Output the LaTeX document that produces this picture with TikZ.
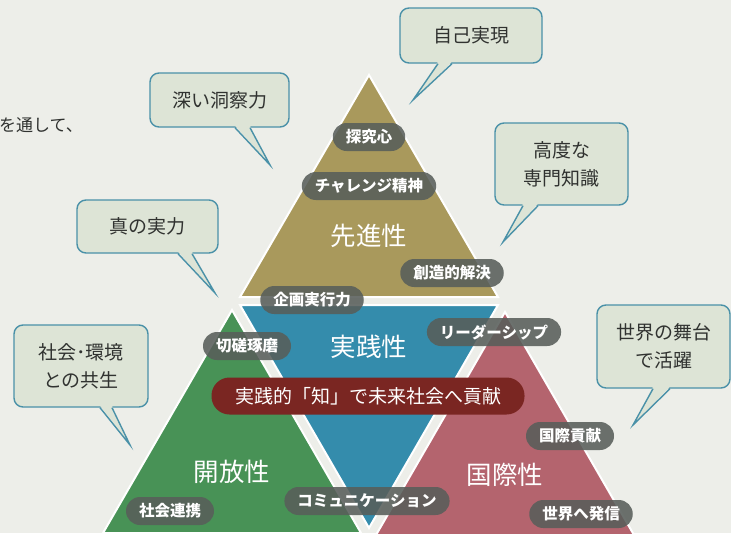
\documentclass[tikz,border=0pt]{standalone}
\usepackage{fontspec}
\setmainfont{Noto Sans CJK JP}
\usetikzlibrary{calc}
\definecolor{bg}{RGB}{237,238,233}
\definecolor{goldc}{RGB}{169,153,92}
\definecolor{bluec}{RGB}{52,140,172}
\definecolor{greenc}{RGB}{72,146,86}
\definecolor{redc}{RGB}{180,100,110}
\definecolor{pillc}{RGB}{88,94,90}
\definecolor{redpillc}{RGB}{122,38,34}
\definecolor{bubfill}{RGB}{221,228,214}
\definecolor{bubline}{RGB}{74,145,168}
\definecolor{txtdark}{RGB}{48,50,48}
\tikzset{
  tri/.style={draw=white, line width=2pt},
  bigtxt/.style={text=white, font=\fontsize{25.5}{28}\selectfont, inner sep=0pt},
  pill/.style={fill=pillc, fill opacity=0.88, text opacity=1, text=white, rounded corners=14pt,
    minimum height=28pt, inner xsep=13pt, inner ysep=0pt, font=\fontsize{15.5}{18}\selectfont\bfseries},
  redpill/.style={fill=redpillc, text=white, rounded corners=18pt, minimum height=37pt,
    minimum width=313pt, inner sep=0pt, font=\fontsize{19}{22}\selectfont},
  bubble/.style={draw=bubline, line width=1.4pt, fill=bubfill, rounded corners=9pt,
    text=txtdark, align=center, inner sep=0pt, font=\fontsize{19}{28}\selectfont},
  tail/.style={draw=bubline, line width=1.4pt, line join=miter},
  sidetxt/.style={text=txtdark, font=\fontsize{17}{18}\selectfont, inner sep=0pt, anchor=west}
}
\begin{document}
\begin{tikzpicture}[x=1pt,y=-1pt]
\useasboundingbox (0,0) rectangle (731,533);
\clip (0,0) rectangle (731,533);
\fill[bg] (0,0) rectangle (731,533);

% triangles
\coordinate (gA) at (369,75);  \coordinate (gL) at (240,297); \coordinate (gR) at (498,297);
\coordinate (bL) at (240,305); \coordinate (bR) at (498,305); \coordinate (bB) at (369,528);
\coordinate (nA) at (232,310); \coordinate (nL) at (103,533); \coordinate (nR) at (361,533);
\coordinate (rA) at (505,312); \coordinate (rL) at (376,535); \coordinate (rR) at (634,535);
\filldraw[tri, fill=goldc] (gA) -- (gL) -- (gR) -- cycle;
\filldraw[tri, fill=bluec] (bL) -- (bR) -- (bB) -- cycle;
\filldraw[tri, fill=greenc] (nA) -- (nL) -- (nR) -- cycle;
\filldraw[tri, fill=redc] (rA) -- (rL) -- (rR) -- cycle;

% big labels
\node[bigtxt] (sen) at (369,236) {先進性};
\node[bigtxt] (jis) at (369,347) {実践性};
\node[bigtxt] (kai) at (232,472) {開放性};
\node[bigtxt] (kok) at (505,475) {国際性};

% pills
\node[pill] (p1) at (369,137) {探究心};
\node[pill] (p2) at (369,186) {チャレンジ精神};
\node[pill] (p3) at (452,273) {創造的解決};
\node[pill] (p4) at (312,300) {企画実行力};
\node[pill] (p5) at (247,346) {切磋琢磨};
\node[pill] (p6) at (494,332) {リーダーシップ};
\node[pill] (p7) at (170,511) {社会連携};
\node[pill] (p8) at (367,501) {コミュニケーション};
\node[pill] (p9) at (570,436) {国際貢献};
\node[pill] (p10) at (581,514) {世界へ発信};
\node[redpill] (rp) at (368,396) {実践的「知」で未来社会へ貢献};

% side text
\node[sidetxt] (side) at (-1,125) {を通して、};

% bubbles
\node[bubble, minimum width=139pt, minimum height=54pt] (b1) at (219.5,100) {深い洞察力};
\node[bubble, minimum width=141pt, minimum height=53pt] (b2) at (147.5,226.5) {真の実力};
\node[bubble, minimum width=142pt, minimum height=55pt] (b3) at (471,35.5) {自己実現};
\node[bubble, minimum width=133pt, minimum height=82pt] (b4) at (561.5,164) {高度な\\専門知識};
\node[bubble, minimum width=134pt, minimum height=82pt] (b5) at (81,366) {社会･環境\\との共生};
\node[bubble, minimum width=133pt, minimum height=83pt] (b6) at (663.5,346.5) {世界の舞台\\で活躍};

\coordinate (t1) at (270,165);
\coordinate (t2) at (215,293);
\coordinate (t3) at (413,100);
\coordinate (t4) at (503,242);
\coordinate (t5) at (130,445);
\coordinate (t6) at (633,425);

\foreach \b/\t/\da/\db in {b1/t1/15.5/30.5, b2/t2/30.5/44.5, b3/t3/-33/-19, b4/t4/-38.5/-23.5, b5/t5/19/31, b6/t6/-10.5/6.5}{
  \fill[bubfill] ($(\b.south)+(\da,-2)$) -- (\t) -- ($(\b.south)+(\db,-2)$) -- cycle;
  \draw[tail] ($(\b.south)+(\da,0)$) -- (\t) -- ($(\b.south)+(\db,0)$);
}
\end{tikzpicture}
\end{document}
